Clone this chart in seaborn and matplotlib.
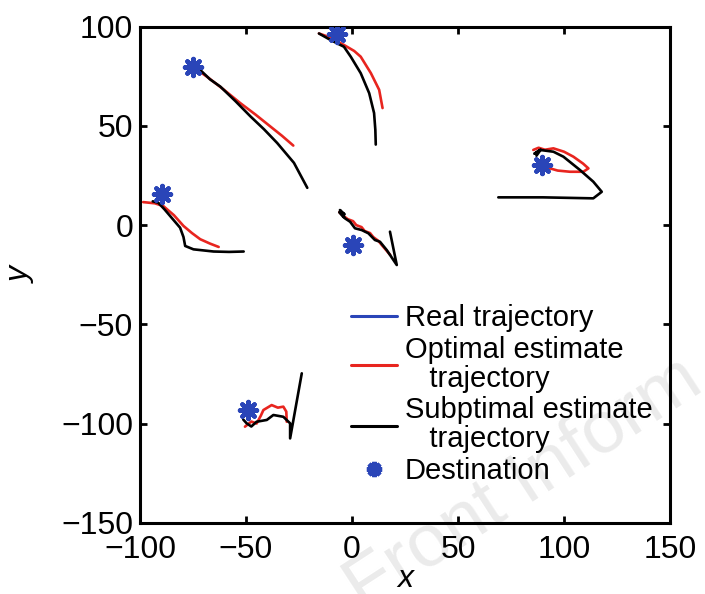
import numpy as np
import seaborn as sb
import matplotlib.pyplot as plt
from matplotlib.lines import Line2D

# trajectoires (x, y)
dest_x = [-75.0, -7.2, -89.8, 0.6, 89.5, -48.9]
dest_y = [79.7, 96.3, 15.7, -10.0, 30.3, -93.2]

opt_x = [
    [-75.0, -68.4, -60.5, -52.7, -45.5, -38.5, -33.0, -27.7],
    [-15.6, -10.0, -3.8, 1.0, 4.1, 8.9, 12.8, 14.4],
    [-98.5, -93.0, -89.0, -84.0, -79.5, -75.5, -71.6, -67.0, -62.9],
    [-6.0, -4.5, -2.0, 0.5, 2.0, 4.5, 6.0, 8.5, 10.0, 12.5, 14.0, 16.0, 18.0],
    [85.5, 88.0, 91.0, 95.0, 100.0, 104.4, 109.0, 111.5, 109.1, 102.8, 97.0, 93.4, 90.6],
    [-50.5, -47.5, -45.0, -43.0, -41.8, -37.9, -35.0, -32.4, -31.0, -30.8],
]
opt_y = [
    [79.7, 74.8, 68.3, 61.5, 55.7, 49.7, 45.0, 40.1],
    [96.6, 94.5, 90.8, 87.8, 84.9, 76.6, 68.2, 59.0],
    [11.6, 11.0, 9.6, 5.0, -0.4, -4.0, -7.1, -9.3, -11.0],
    [6.5, 5.0, 3.0, 2.0, 0.0, -1.0, -3.0, -4.0, -6.0, -8.0, -10.0, -12.5, -15.0],
    [37.9, 39.0, 38.0, 38.7, 37.0, 34.5, 31.0, 28.6, 26.9, 26.9, 27.5, 28.6, 30.0],
    [-101.6, -99.0, -100.0, -96.0, -93.2, -90.7, -92.0, -91.5, -94.0, -99.1],
]

sub_x = [
    [-75.0, -71.6, -67.0, -62.1, -55.0, -47.9, -41.5, -35.3, -27.4, -21.1],
    [-15.6, -10.1, -3.8, -0.6, 4.1, 8.1, 10.4, 11.0, 11.2],
    [-94.0, -91.4, -88.5, -85.8, -81.1, -79.5, -78.7, -74.8, -65.3, -58.0, -51.1],
    [17.9, 21.1, 16.4, 13.2, 10.8, 7.7, 4.6, 1.4, -0.9, -3.3, -5.7, -3.5, -6.0, -4.0],
    [69.0, 90.0, 113.8, 117.8, 113.8, 107.5, 99.7, 95.0, 88.7, 86.0, 89.0, 87.0],
    [-23.7, -29.2, -29.2, -32.4, -37.1, -40.2, -45.0, -47.5, -49.7, -51.3],
]
sub_y = [
    [79.7, 78.2, 73.5, 69.8, 62.5, 54.8, 48.3, 41.4, 31.4, 18.8],
    [96.6, 93.3, 89.9, 84.9, 76.6, 66.5, 56.5, 48.0, 40.6],
    [12.0, 11.3, 8.0, 4.6, -1.3, -6.0, -10.5, -12.2, -13.3, -13.5, -13.3],
    [-3.3, -20.1, -12.6, -8.4, -7.5, -4.1, -2.5, -1.6, 1.7, 3.4, 7.6, 5.5, 6.5, 4.0],
    [14.0, 14.0, 13.5, 16.8, 21.9, 27.8, 34.5, 37.0, 37.9, 36.0, 38.0, 35.0],
    [-74.7, -107.5, -99.9, -96.6, -95.7, -98.2, -99.1, -101.5, -99.9, -98.0],
]

labels = ["Real trajectory", "Optimal estimate\n   trajectory",
          "Subptimal estimate\n   trajectory", "Destination"]

BLEU = "#2a45b8"
ROUGE = "#e8251f"

sb.set_style("ticks", {"axes.edgecolor": "black", "text.color": "black",
                       "axes.labelcolor": "black", "xtick.color": "black",
                       "ytick.color": "black"})
plt.rcParams['font.family'] = ['Liberation Sans', 'DejaVu Sans']

fig = plt.figure(figsize=(7.05, 5.94), dpi=100)

# filigrane, sous le graphe
fig.text(0.515, -0.03, "Front Inform", fontsize=54, color='#ebebeb', rotation=33,
         ha='left', va='baseline', rotation_mode='anchor', zorder=-1)

ax = fig.add_axes([0.1986, 0.12, 0.7518, 0.835])
ax.patch.set_alpha(0)

for xs, ys in zip(opt_x, opt_y):
    sb.lineplot(x=xs, y=ys, sort=False, estimator=None, color=ROUGE, lw=1.9, ax=ax)
for xs, ys in zip(sub_x, sub_y):
    sb.lineplot(x=xs, y=ys, sort=False, estimator=None, color="black", lw=1.9, ax=ax)
sb.scatterplot(x=dest_x, y=dest_y, marker=(8, 2, 0), s=150, color=BLEU,
               edgecolor=BLEU, linewidth=3.2, zorder=5, ax=ax)

ax.set_xlim(-100, 150)
ax.set_ylim(-150, 100)
ax.set_xticks([-100, -50, 0, 50, 100, 150])
ax.set_yticks([-150, -100, -50, 0, 50, 100])
ax.tick_params(direction='in', length=5, width=2, labelsize=23, top=True, right=True)
ax.tick_params(axis='x', pad=9)
ax.tick_params(axis='y', pad=5)
for s in ax.spines.values():
    s.set_linewidth(2.2)
    s.set_visible(True)
ax.set_xlabel('x', fontsize=23, style='italic', labelpad=-1)
ax.set_ylabel('y', fontsize=23, style='italic', labelpad=18)

handles = [Line2D([], [], color=BLEU, lw=2.2),
           Line2D([], [], color=ROUGE, lw=2.2),
           Line2D([], [], color="black", lw=2.2),
           Line2D([], [], color=BLEU, marker=(8, 2, 0), ls='none', ms=11, mew=3.2)]
leg = ax.legend(handles, labels, loc='upper left', bbox_to_anchor=(0.37, 0.47),
                frameon=False, fontsize=21, borderpad=0, handlelength=1.6,
                handletextpad=0.25, labelspacing=0.12)
for t in leg.get_texts():
    t.set_linespacing(1.05)

fig.savefig("out.png", dpi=100)
